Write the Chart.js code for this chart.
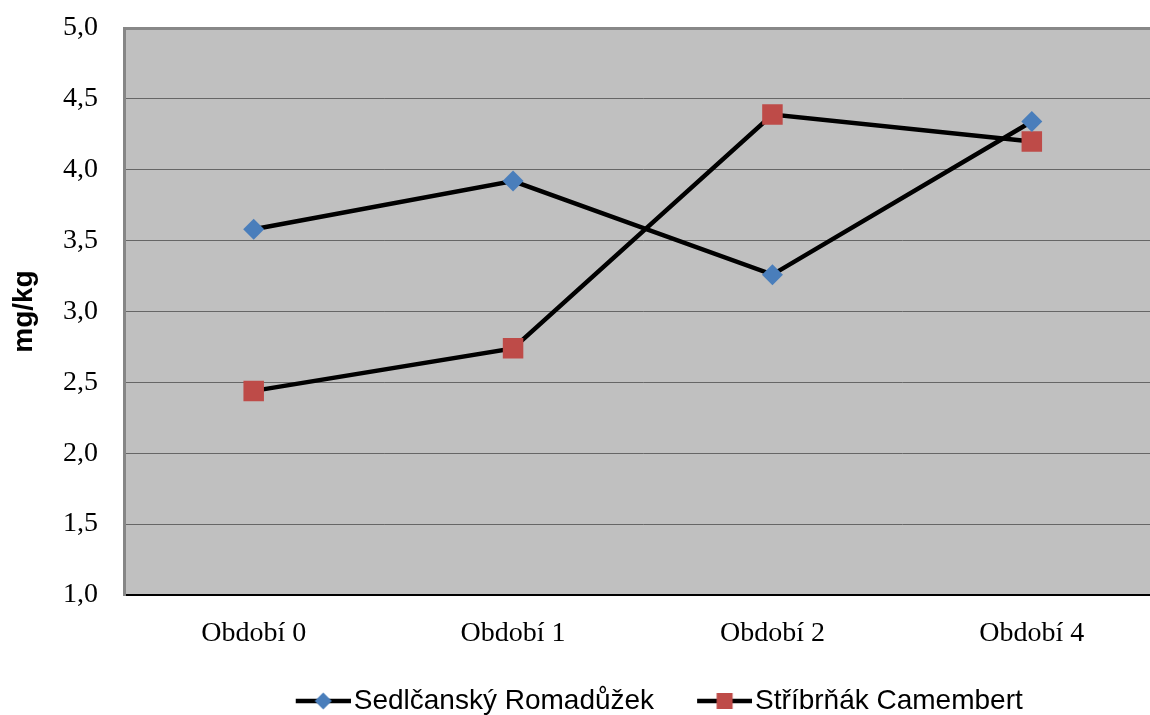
<!DOCTYPE html>
<html>
<head>
<meta charset="utf-8">
<script src="https://cdn.jsdelivr.net/npm/chart.js@4"></script>
<style>
  html, body { margin: 0; padding: 0; background: #fff; overflow: hidden; }
  canvas { display: block; }
</style>
</head>
<body>
<canvas id="chart" width="1176" height="715"></canvas>
<script>
const categories = ["Období 0", "Období 1", "Období 2", "Období 4"];
const sedlcansky = [3.58, 3.92, 3.26, 4.34];
const stribrnak = [2.44, 2.74, 4.39, 4.2];
const seriesNames = ["Sedlčanský Romadůžek", "Stříbrňák Camembert"];
const yMin = 1.0;
const yMax = 5.0;
const yStep = 0.5;

// legend symbol: black line with the marker in the middle
function legendSymbol(kind, color) {
  const c = document.createElement("canvas");
  c.width = 99;
  c.height = 24;
  const g = c.getContext("2d");
  const x0 = 99 - 55;
  g.strokeStyle = "#000";
  g.lineWidth = 4.5;
  g.beginPath();
  g.moveTo(x0, 12);
  g.lineTo(99, 12);
  g.stroke();
  const cx = x0 + 27.5;
  g.fillStyle = color;
  if (kind === "diamond") {
    g.beginPath();
    g.moveTo(cx - 8.5, 12);
    g.lineTo(cx, 3.5);
    g.lineTo(cx + 8.5, 12);
    g.lineTo(cx, 20.5);
    g.closePath();
    g.fill();
  } else {
    g.fillRect(cx - 8, 4, 16, 16);
  }
  return c;
}

const plotBg = {
  id: "plotBg",
  beforeDraw(chart) {
    const a = chart.chartArea;
    const ctx = chart.ctx;
    ctx.save();
    ctx.fillStyle = "#c0c0c0";
    ctx.fillRect(a.left, a.top, a.right - a.left, a.bottom - a.top);
    ctx.restore();
  },
};

new Chart(document.getElementById("chart"), {
  type: "line",
  data: {
    labels: categories,
    datasets: [
      {
        label: seriesNames[0],
        data: sedlcansky,
        borderColor: "#000",
        borderWidth: 4.5,
        pointStyle: "rectRot",
        pointRadius: 10.5,
        pointBackgroundColor: "#4a7ebb",
        pointBorderWidth: 0,
        tension: 0,
        fill: false,
      },
      {
        label: seriesNames[1],
        data: stribrnak,
        borderColor: "#000",
        borderWidth: 4.5,
        pointStyle: "rect",
        pointRadius: 14.5,
        pointBackgroundColor: "#be4b48",
        pointBorderWidth: 0,
        tension: 0,
        fill: false,
      },
    ],
  },
  options: {
    responsive: false,
    animation: false,
    layout: { padding: { top: 28, right: 0, bottom: -10, left: 0 } },
    scales: {
      x: {
        offset: true,
        grid: { display: false, drawTicks: false },
        border: { color: "#000", width: 2 },
        ticks: {
          color: "#000",
          padding: 22,
          font: { family: "Liberation Serif", size: 28 },
          maxRotation: 0,
        },
        afterFit: (scale) => {
          scale.height = 82;
        },
      },
      y: {
        min: yMin,
        max: yMax,
        grid: {
          drawTicks: false,
          color: (ctx) => {
            if (ctx.tick && ctx.tick.value === yMax) return "#888888";
            if (ctx.tick && ctx.tick.value === yMin) return "rgba(0,0,0,0)";
            return "#666666";
          },
          lineWidth: (ctx) => (ctx.tick && ctx.tick.value === yMax ? 3 : 1),
        },
        border: { color: "#868686", width: 3 },
        ticks: {
          stepSize: yStep,
          color: "#000",
          padding: 26,
          font: { family: "Liberation Serif", size: 28 },
          callback: (v) => v.toFixed(1).replace(".", ","),
        },
        title: {
          display: true,
          text: "mg/kg",
          color: "#000",
          font: { family: "Liberation Sans", size: 28, weight: "bold", lineHeight: 1 },
          padding: { top: 10, bottom: 0 },
        },
        afterFit: (scale) => {
          scale.width = 124;
          scale.paddingTop = 0;
          scale.paddingBottom = 0;
        },
      },
    },
    plugins: {
      tooltip: { enabled: false },
      legend: {
        position: "bottom",
        fullSize: false,
        labels: {
          color: "#000",
          font: { family: "Liberation Sans", size: 28 },
          usePointStyle: true,
          pointStyleWidth: 77,
          padding: 10,
          generateLabels: (chart) =>
            chart.data.datasets.map((ds, i) => ({
              text: ds.label,
              pointStyle: legendSymbol(i === 0 ? "diamond" : "square", ds.pointBackgroundColor),
              fillStyle: ds.pointBackgroundColor,
              strokeStyle: "#000",
              lineWidth: 0,
              hidden: false,
              datasetIndex: i,
            })),
        },
      },
    },
  },
  plugins: [plotBg],
});
</script>
</body>
</html>
